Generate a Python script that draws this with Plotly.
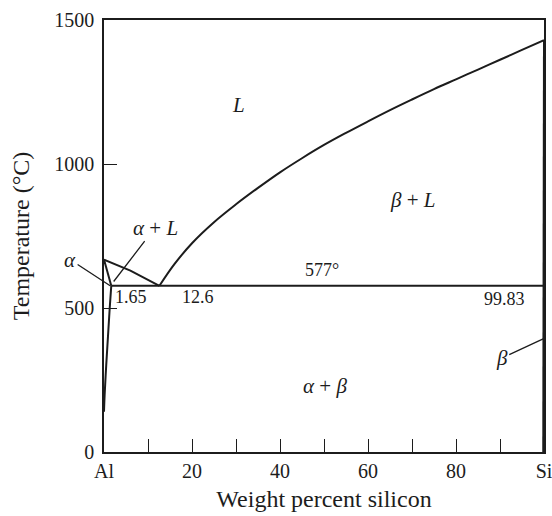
import plotly.graph_objects as go

# ---- data ----
eutectic_T = 577
alpha_max = 1.65
eutectic_x = 12.6
beta_min = 99.83

# liquidus, Al side
liq_al_x = [0, 6, 12.6]
liq_al_T = [668, 630, 577]
# liquidus, Si side
liq_si_x = [12.6, 16, 20, 25, 30, 35, 40, 45, 50, 55, 60, 65, 70, 75, 80, 85, 90, 95, 100]
liq_si_T = [577, 652, 725, 798, 860, 917, 971, 1020, 1066, 1108, 1148, 1187, 1224, 1260,
            1294, 1328, 1362, 1396, 1430]
# alpha solidus and solvus
sol_a_x = [0, 1.65]
sol_a_T = [668, 577]
solvus_a_x = [1.65, 1.3, 0.9, 0.5, 0.15, 0]
solvus_a_T = [577, 500, 400, 300, 200, 140]
# beta boundary
beta_x = [100, 99.83, 99.83]
beta_T = [1430, 577, 0]
# eutectic line
eut_x = [1.65, 99.83]
eut_T = [577, 577]

x_tickvals = [0, 10, 20, 30, 40, 50, 60, 70, 80, 90, 100]
x_ticktext = ["Al", "", "20", "", "40", "", "60", "", "80", "", "Si"]
y_tickvals = [0, 500, 1000, 1500]
y_ticktext = ["0", "500", "1000", "1500"]

FONT = "Liberation Serif, Times New Roman, serif"
INK = "#1c1c1c"

fig = go.Figure()
for xs, ys in [(liq_al_x, liq_al_T), (liq_si_x, liq_si_T), (sol_a_x, sol_a_T),
               (solvus_a_x, solvus_a_T), (beta_x, beta_T), (eut_x, eut_T)]:
    fig.add_trace(go.Scatter(x=xs, y=ys, mode="lines", line=dict(color=INK, width=2),
                             line_shape="spline" if len(xs) > 3 else "linear",
                             hoverinfo="skip", showlegend=False, cliponaxis=False))

def txt(x, y, s, size=20):
    fig.add_annotation(x=x, y=y, text=s, showarrow=False, xref="x", yref="y",
                       font=dict(family=FONT, size=size, color=INK))

txt(30.5, 1206, "<i>L</i>", 21)
txt(70.2, 876, "<i>β</i> + <i>L</i>", 21)
txt(50.2, 230, "<i>α</i> + <i>β</i>", 21)
txt(6.2, 537, "1.65", 18)
txt(21.4, 537, "12.6", 18)
txt(49.5, 633, "577°", 18)
txt(91.1, 533, "99.83", 18)

def lead(tx, ty, px, py, s):
    fig.add_annotation(x=px, y=py, ax=tx, ay=ty, xref="x", yref="y", axref="x", ayref="y",
                       text=s, showarrow=True, arrowhead=0, arrowwidth=1.3, arrowcolor=INK,
                       font=dict(family=FONT, size=21, color=INK))

lead(-7.7, 668, 1.4, 577, "<i>α</i>")
lead(11.6, 779, 2.2, 592, "<i>α</i> + <i>L</i>")
lead(90.4, 326, 99.8, 393, "<i>β</i>")

fig.update_xaxes(range=[0, 100], tickvals=x_tickvals, ticktext=x_ticktext,
                 ticks="inside", ticklen=13, tickwidth=1.3, tickcolor=INK,
                 showline=True, linecolor=INK, linewidth=1.5, mirror=True,
                 showgrid=False, zeroline=False, automargin=False,
                 ticklabeloverflow="allow",
                 tickfont=dict(family=FONT, size=20, color=INK),
                 title=dict(text="Weight percent silicon", font=dict(family=FONT, size=24, color=INK),
                            standoff=9))
fig.update_yaxes(range=[0, 1500], tickvals=y_tickvals, ticktext=y_ticktext,
                 ticks="inside", ticklen=13, tickwidth=1.3, tickcolor=INK,
                 showline=True, linecolor=INK, linewidth=1.5, mirror=True,
                 showgrid=False, zeroline=False, automargin=False,
                 ticklabeloverflow="allow", ticklabelstandoff=4,
                 tickfont=dict(family=FONT, size=20, color=INK),
                 title=dict(text="Temperature (°C)", font=dict(family=FONT, size=24, color=INK),
                            standoff=18))
fig.update_layout(width=552, height=516, margin=dict(l=104, r=8, t=20, b=64),
                  plot_bgcolor="white", paper_bgcolor="white", showlegend=False)
fig.write_html("out.html", config={"displayModeBar": False},
               post_script="document.body.style.margin='0';")
